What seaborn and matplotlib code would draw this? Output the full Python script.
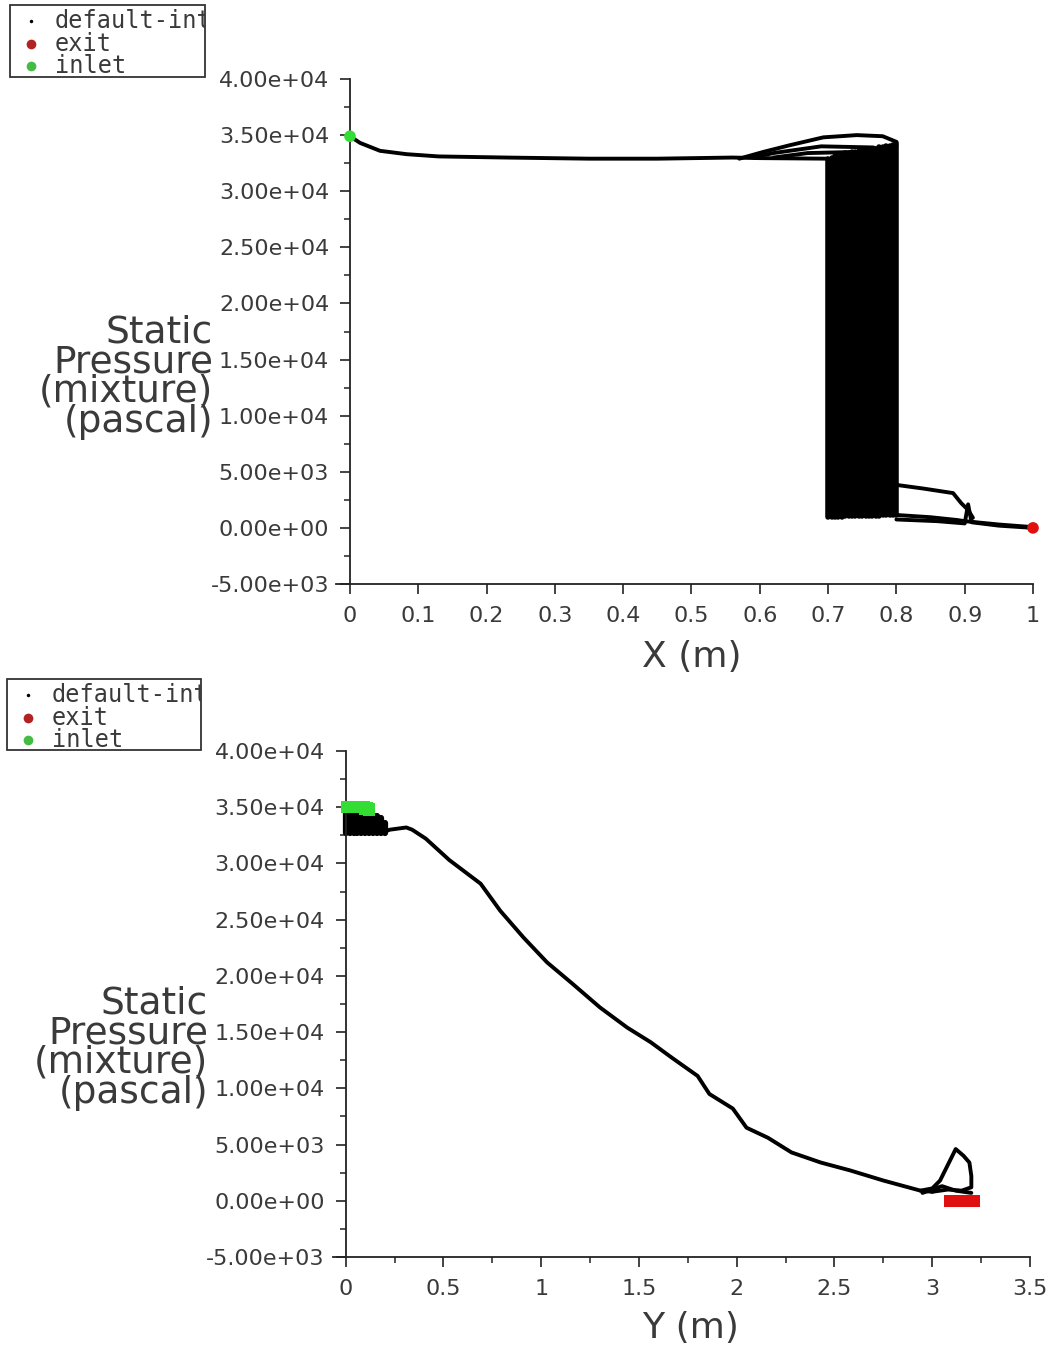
import numpy as np
import pandas as pd
import matplotlib
matplotlib.use("Agg")
import matplotlib.pyplot as plt
import seaborn as sns
from matplotlib.patches import Rectangle
from matplotlib.lines import Line2D
from matplotlib.ticker import MultipleLocator, FuncFormatter, FixedLocator

# ---------------- data ----------------
# Top plot: static pressure vs X
top_main_x = [0.0, 0.015, 0.044, 0.083, 0.13, 0.23, 0.35, 0.45, 0.56, 0.60, 0.70]
top_main_p = [34900, 34300, 33600, 33300, 33100, 33000, 32900, 32900, 33000, 32950, 32900]
top_arc1_x = [0.57, 0.605, 0.644, 0.693, 0.742, 0.78, 0.80]
top_arc1_p = [32900, 33500, 34100, 34800, 35000, 34900, 34400]
top_arc2_x = [0.59, 0.62, 0.69, 0.766, 0.79, 0.80]
top_arc2_p = [33000, 33400, 34000, 33900, 33400, 34000]
top_arc3_x = [0.62, 0.67, 0.74, 0.78, 0.80]
top_arc3_p = [33000, 33400, 33500, 33300, 34200]
top_block_x = [0.700, 0.705, 0.710, 0.715, 0.720, 0.725, 0.730, 0.735, 0.740, 0.745, 0.750,
               0.755, 0.760, 0.765, 0.770, 0.775, 0.780, 0.785, 0.790, 0.795, 0.800]
top_block_low = [1000, 1000, 1000, 1000, 1000, 1050, 1050, 1050, 1050, 1050, 1100,
                 1100, 1100, 1100, 1100, 1100, 1150, 1150, 1150, 1150, 1150]
top_block_high = [32900, 33000, 33100, 33200, 33300, 33400, 33400, 33500, 33500, 33600, 33600,
                  33700, 33700, 33800, 33800, 33900, 33900, 34000, 34000, 34100, 34300]
top_br1_x = [0.80, 0.84, 0.883, 0.895, 0.905, 0.912]
top_br1_p = [3830, 3500, 3100, 2200, 1600, 900]
top_br2_x = [0.80, 0.85, 0.889, 0.90, 0.95, 0.995]
top_br2_p = [1150, 950, 700, 600, 300, 90]
top_br3_x = [0.80, 0.86, 0.90, 0.905, 0.91, 0.95, 1.0]
top_br3_p = [750, 600, 400, 2100, 500, 200, 0]
top_exit_x = [1.0]
top_exit_p = [0]
top_inlet_x = [0.0]
top_inlet_p = [34900]

# Bottom plot: static pressure vs Y
bot_main_y = [0.0, 0.10, 0.21, 0.225, 0.31, 0.34, 0.41, 0.53, 0.69, 0.79, 0.91, 1.03, 1.16,
              1.30, 1.44, 1.56, 1.67, 1.80, 1.86, 1.98, 2.05, 2.16, 2.28, 2.43, 2.58, 2.75,
              2.94, 3.0]
bot_main_p = [33000, 33000, 32900, 33000, 33200, 33000, 32200, 30300, 28200, 25800, 23400,
              21200, 19300, 17200, 15400, 14100, 12700, 11100, 9500, 8200, 6500, 5600, 4300,
              3400, 2700, 1800, 900, 800]
bot_loop_y = [2.94, 3.0, 3.04, 3.08, 3.12, 3.16, 3.19, 3.20, 3.20, 3.15, 3.08, 3.0]
bot_loop_p = [900, 1100, 1800, 3200, 4600, 4000, 3400, 2200, 1200, 900, 1000, 800]
bot_low_y = [2.95, 3.05, 3.12, 3.20]
bot_low_p = [700, 1300, 900, 700]
bot_block_y = [0.00, 0.02, 0.04, 0.06, 0.08, 0.10, 0.12, 0.14, 0.16, 0.18, 0.20]
bot_block_low = [32700, 32700, 32700, 32700, 32700, 32700, 32700, 32700, 32700, 32700, 32700]
bot_block_high = [34500, 34500, 34500, 34500, 34400, 34400, 34300, 34300, 34200, 34000, 33600]
bot_inlet_y = [0.01, 0.02, 0.03, 0.04, 0.05, 0.06, 0.07, 0.08, 0.09, 0.10, 0.11, 0.12]
bot_inlet_p = [35000, 35000, 35000, 35000, 35000, 35000, 35000, 35000, 35000, 34900,
               34900, 34800]
bot_exit_y = [3.09, 3.10, 3.11, 3.12, 3.13, 3.14, 3.15, 3.16, 3.17, 3.18, 3.19, 3.20, 3.21]
bot_exit_p = [0, 0, 0, 0, 0, 0, 0, 0, 0, 0, 0, 0, 0]

legend_labels = ["default-interior", "exit", "inlet"]
y_ticks = [-5000, 0, 5000, 10000, 15000, 20000, 25000, 30000, 35000, 40000]
top_x_ticks = [0, 0.1, 0.2, 0.3, 0.4, 0.5, 0.6, 0.7, 0.8, 0.9, 1.0]
bot_x_ticks = [0, 0.5, 1, 1.5, 2, 2.5, 3, 3.5]
bot_x_minor = [0.25, 0.75, 1.25, 1.75, 2.25, 2.75, 3.25]
ylabel_text = "Static\nPressure\n(mixture)\n(pascal)"

# ---------------- style ----------------
sns.set_style("ticks")
plt.rcParams["font.family"] = ["DejaVu Sans"]
TXT = "#3a3a3a"
EXIT_C = "#e01010"
INLET_C = "#33dd33"

W, H = 1053, 1349
fig = plt.figure(figsize=(W / 100, H / 100), dpi=100)
ax1 = fig.add_axes([336.3 / W, 1 - 584 / H, (1033 - 336.3) / W, (584 - 79) / H])
ax2 = fig.add_axes([333 / W, 1 - 1257 / H, (1030 - 333) / W, (1257 - 751) / H])


def branches_df(pairs):
    rows = []
    for i, (xs, ps) in enumerate(pairs):
        for xv, pv in zip(xs, ps):
            rows.append({"x": xv, "p": pv, "unit": i})
    return pd.DataFrame(rows)


def block_df(xs, lows, highs):
    rows = []
    for i, (xv, lo, hi) in enumerate(zip(xs, lows, highs)):
        rows.append({"x": xv, "p": lo, "unit": i})
        rows.append({"x": xv, "p": hi, "unit": i})
    return pd.DataFrame(rows)


# top plot
d_top = branches_df([(top_main_x, top_main_p), (top_arc1_x, top_arc1_p),
                     (top_arc2_x, top_arc2_p), (top_arc3_x, top_arc3_p),
                     (top_br1_x, top_br1_p), (top_br2_x, top_br2_p), (top_br3_x, top_br3_p)])
sns.lineplot(data=d_top, x="x", y="p", units="unit", estimator=None, sort=False,
             color="black", lw=2.8, ax=ax1)
sns.lineplot(data=block_df(top_block_x, top_block_low, top_block_high), x="x", y="p",
             units="unit", estimator=None, sort=False, color="black", lw=4.0, ax=ax1)
sns.scatterplot(x=top_inlet_x, y=top_inlet_p, color=INLET_C, s=70, edgecolor="none",
                ax=ax1, clip_on=False, zorder=5)
sns.scatterplot(x=top_exit_x, y=top_exit_p, color=EXIT_C, s=70, edgecolor="none",
                ax=ax1, clip_on=False, zorder=5)

# bottom plot
d_bot = branches_df([(bot_main_y, bot_main_p), (bot_loop_y, bot_loop_p), (bot_low_y, bot_low_p)])
sns.lineplot(data=d_bot, x="x", y="p", units="unit", estimator=None, sort=False,
             color="black", lw=2.8, ax=ax2)
sns.lineplot(data=block_df(bot_block_y, bot_block_low, bot_block_high), x="x", y="p",
             units="unit", estimator=None, sort=False, color="black", lw=4.5, ax=ax2)
sns.scatterplot(x=bot_inlet_y, y=bot_inlet_p, color=INLET_C, s=80, marker="s",
                edgecolor="none", ax=ax2, clip_on=False, zorder=5)
sns.scatterplot(x=bot_exit_y, y=bot_exit_p, color=EXIT_C, s=80, marker="s",
                edgecolor="none", ax=ax2, clip_on=False, zorder=5)


def style(ax, xmin, xmax, xticks, xminor):
    ax.set_xlim(xmin, xmax)
    ax.set_ylim(-5000, 40000)
    ax.set_xlabel("")
    ax.set_ylabel("")
    for s in ["top", "right"]:
        ax.spines[s].set_visible(False)
    ax.spines["left"].set_position(("data", 0))
    for s in ["left", "bottom"]:
        ax.spines[s].set_color("#222222")
        ax.spines[s].set_linewidth(1.3)
    ax.xaxis.set_major_locator(FixedLocator(xticks))
    if xminor:
        ax.xaxis.set_minor_locator(FixedLocator(xminor))
    ax.xaxis.set_major_formatter(FuncFormatter(lambda v, p: "%g" % round(v, 3)))
    ax.yaxis.set_major_locator(FixedLocator(y_ticks))
    ax.yaxis.set_minor_locator(MultipleLocator(2500))
    ax.yaxis.set_major_formatter(FuncFormatter(lambda v, p: "%.2e" % v))
    ax.tick_params(axis="both", which="major", direction="out", length=7, width=1.2,
                   color="#222222", labelcolor=TXT, labelsize=16)
    ax.tick_params(axis="both", which="minor", direction="out", length=4, width=1.1,
                   color="#222222")
    ax.tick_params(axis="y", which="major", pad=8)
    ax.tick_params(axis="x", which="major", pad=9)
    ax.patch.set_alpha(0)


style(ax1, -0.02, 1.0, top_x_ticks, None)
style(ax2, -0.065, 3.5, bot_x_ticks, bot_x_minor)

# axis titles
fig.text(213 / W, 1 - 377 / H, ylabel_text, ha="right", va="center", multialignment="right",
         fontsize=27, linespacing=0.78, color=TXT)
fig.text(208 / W, 1 - 1048 / H, ylabel_text, ha="right", va="center", multialignment="right",
         fontsize=27, linespacing=0.78, color=TXT)
fig.text(692 / W, 1 - 657 / H, "X (m)", ha="center", va="center", fontsize=26, color=TXT)
fig.text(690 / W, 1 - 1328 / H, "Y (m)", ha="center", va="center", fontsize=26, color=TXT)


# legends
def legend_box(x0, y0, x1, y1):
    rect = Rectangle((x0 / W, 1 - y1 / H), (x1 - x0) / W, (y1 - y0) / H,
                     transform=fig.transFigure, fill=False, edgecolor="#333333", lw=1.3)
    fig.add_artist(rect)
    rows_y = [y0 + 16, y0 + 39, y0 + 61]
    markers = [("black", 2.5), ("#b22222", 7), ("#44bb44", 7)]
    for lab, ry, (mc, ms) in zip(legend_labels, rows_y, markers):
        fig.add_artist(Line2D([(x0 + 21) / W], [1 - ry / H], transform=fig.transFigure,
                              marker="o", ms=ms, color=mc, mec="none", ls="none"))
        t = fig.text((x0 + 45) / W, 1 - ry / H, lab, ha="left", va="center",
                     fontsize=17, color=TXT, family="DejaVu Sans Mono")
        t.set_clip_path(rect)
        t.set_clip_on(True)


legend_box(10, 5, 205, 77)
legend_box(7, 679, 201, 750)

fig.savefig("out.png", dpi=100, facecolor="white")
